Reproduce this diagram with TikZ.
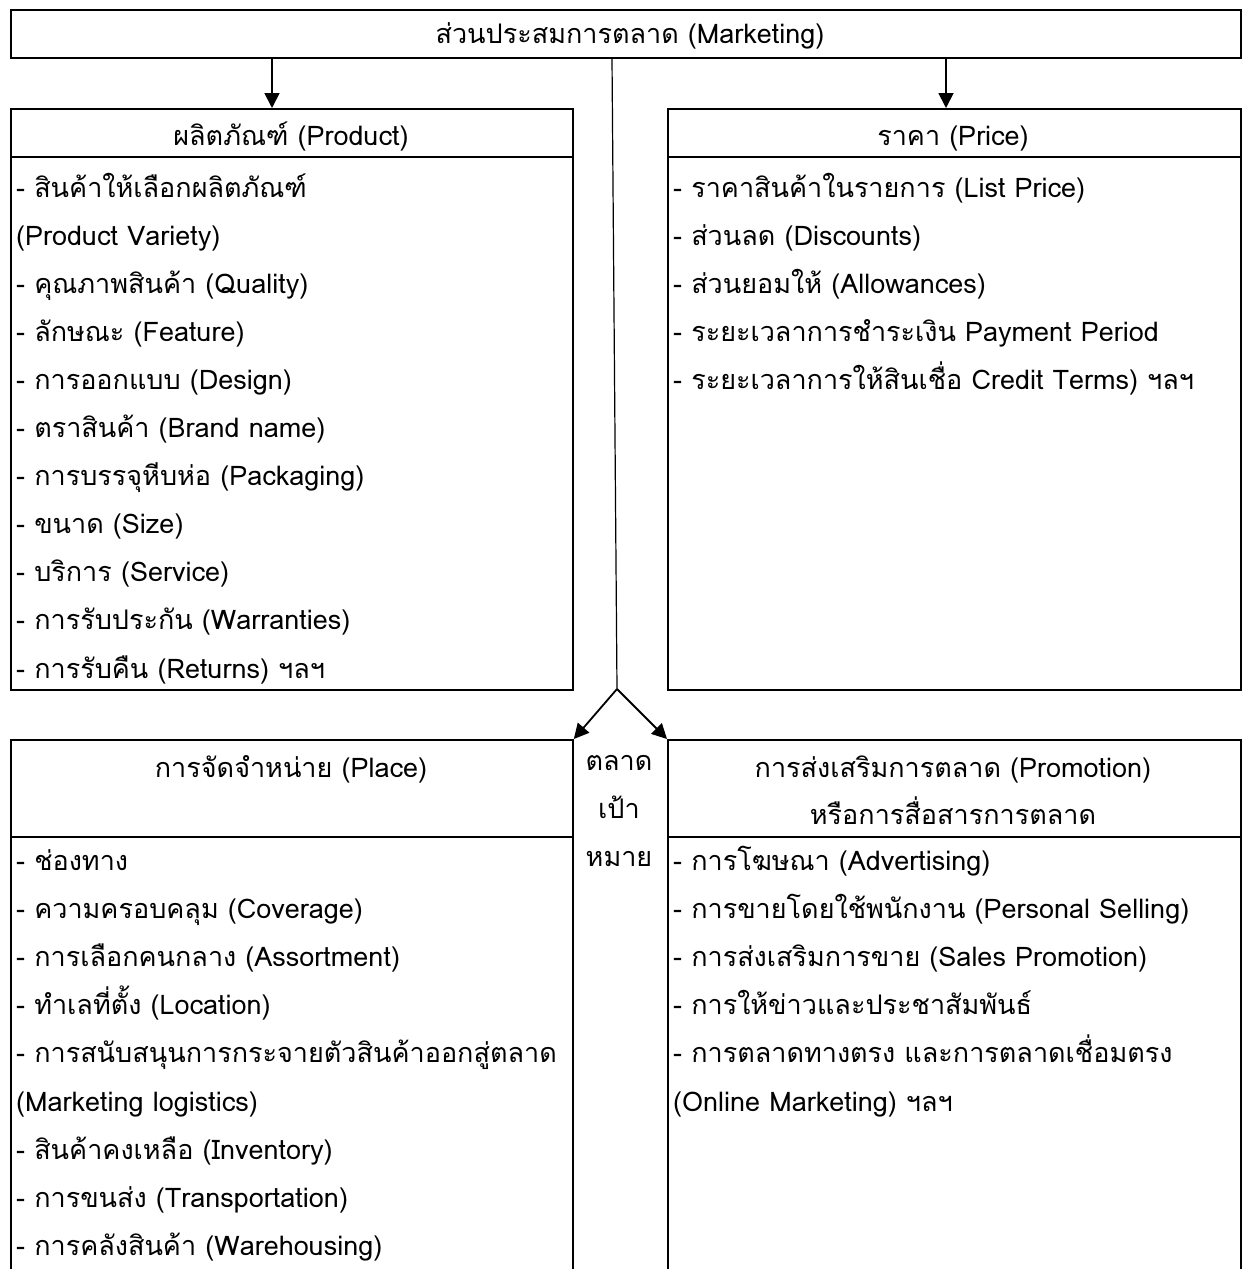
\documentclass[tikz,border=0pt]{standalone}
\usepackage{fontspec}
\newfontfamily\thaifont[Script=Thai]{Loma}
\usetikzlibrary{arrows.meta}
\tikzset{
  font=\thaifont\fontsize{27}{32}\selectfont,
  >={Triangle[length=15pt,width=15pt]},
  box/.style={draw=black, line width=1.8pt},
  link/.style={draw=black, line width=1.8pt, ->},
  stem/.style={draw=black, line width=1.2pt},
  lab/.style={inner sep=0pt, anchor=base},
  item/.style={inner sep=0pt, anchor=base west},
}

\begin{document}
\begin{tikzpicture}[x=1pt,y=-1pt]
\useasboundingbox (0,0) rectangle (1243,1269);
\clip (0,0) rectangle (1243,1269);
% marketing mix, on top
\node[box, anchor=north west, minimum width=1230pt, minimum height=48pt] (mix) at (10,9) {};
\node[lab] (mixlab) at (630,43) {ส่วนประสมการตลาด (Marketing)};
% the four P boxes; lower two run off the page
\node[box, anchor=north west, minimum width=562pt, minimum height=581pt] (product) at (10,108) {};
\node[box, anchor=north west, minimum width=573pt, minimum height=581pt] (price) at (667,108) {};
\node[box, anchor=north west, minimum width=562pt, minimum height=560pt] (place) at (10,739) {};
\node[box, anchor=north west, minimum width=573pt, minimum height=560pt] (promo) at (667,739) {};
% header rules
\draw[box] ([yshift=-49pt]product.north west) -- ([yshift=-49pt]product.north east);
\draw[box] ([yshift=-49pt]price.north west) -- ([yshift=-49pt]price.north east);
\draw[box] ([yshift=-98pt]place.north west) -- ([yshift=-98pt]place.north east);
\draw[box] ([yshift=-98pt]promo.north west) -- ([yshift=-98pt]promo.north east);
% headers
\node[lab] (prodhead) at (291,145) {ผลิตภัณฑ์ (Product)};
\node[lab] (pricehead) at (953,145) {ราคา (Price)};
\node[lab] (placehead) at (291,777) {การจัดจำหน่าย (Place)};
\node[lab] (promohead) at (953,777) {การส่งเสริมการตลาด (Promotion)};
\node[lab] (promohead2) at (953,824) {หรือการสื่อสารการตลาด};
% target market, between the lower boxes
\node[lab] (target1) at (619,770) {ตลาด};
\node[lab] (target2) at (619,818) {เป้า};
\node[lab] (target3) at (619,866) {หมาย};
% connectors
\draw[link] (mix.south -| 272,0) -- (product.north -| 272,0);
\draw[link] (mix.south -| 946,0) -- (price.north -| 946,0);
\coordinate (split) at (617,689);
\draw[stem] (mix.south -| 612,0) -- (split);
\draw[link] (split) -- (place.north east);
\draw[link] (split) -- (promo.north west);
% lists
\foreach \t [count=\i from 0] in {- สินค้าให้เลือกผลิตภัณฑ์, {(Product Variety)},
  - คุณภาพสินค้า (Quality), - ลักษณะ (Feature), - การออกแบบ (Design),
  - ตราสินค้า (Brand name), - การบรรจุหีบห่อ (Packaging), - ขนาด (Size),
  - บริการ (Service), - การรับประกัน (Warranties), - การรับคืน (Returns) ฯลฯ}
  \node[item] (prod\i) at (16,{197+48.1*\i}) {\t};
\foreach \t [count=\i from 0] in {- ราคาสินค้าในรายการ (List Price), - ส่วนลด (Discounts),
  - ส่วนยอมให้ (Allowances), - ระยะเวลาการชำระเงิน Payment Period,
  - ระยะเวลาการให้สินเชื่อ Credit Terms) ฯลฯ}
  \node[item] (price\i) at (673,{197+48.1*\i}) {\t};
\foreach \t [count=\i from 0] in {- ช่องทาง, - ความครอบคลุม (Coverage),
  - การเลือกคนกลาง (Assortment), - ทำเลที่ตั้ง (Location),
  - การสนับสนุนการกระจายตัวสินค้าออกสู่ตลาด, {(Marketing logistics)},
  - สินค้าคงเหลือ (Inventory), - การขนส่ง (Transportation),
  - การคลังสินค้า (Warehousing)}
  \node[item] (place\i) at (16,{870+48.2*\i}) {\t};
\foreach \t [count=\i from 0] in {- การโฆษณา (Advertising),
  - การขายโดยใช้พนักงาน (Personal Selling), - การส่งเสริมการขาย (Sales Promotion),
  - การให้ข่าวและประชาสัมพันธ์, - การตลาดทางตรง และการตลาดเชื่อมตรง,
  {(Online Marketing) ฯลฯ}}
  \node[item] (promo\i) at (673,{870+48.2*\i}) {\t};
\end{tikzpicture}
\end{document}
